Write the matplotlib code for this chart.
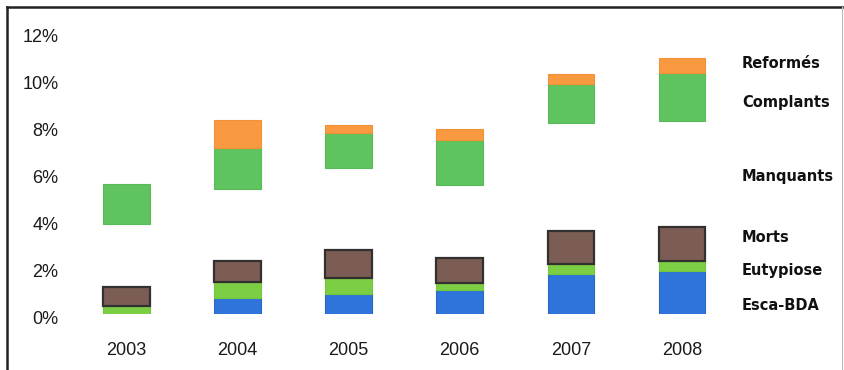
import matplotlib
matplotlib.use("Agg")
import matplotlib.pyplot as plt
import matplotlib.transforms as mtransforms
from matplotlib.lines import Line2D
import numpy as np

years = ["2003", "2004", "2005", "2006", "2007", "2008"]

# share of vines (%) per category, stacked from bottom to top
esca_bda = [0.00, 0.68, 0.86, 1.02, 1.69, 1.83]
eutypiose = [0.35, 0.69, 0.65, 0.28, 0.45, 0.42]
morts = [0.80, 0.89, 1.20, 1.08, 1.38, 1.46]
manquants = [2.65, 3.04, 3.49, 3.11, 4.60, 4.47]
complants = [1.70, 1.76, 1.48, 1.87, 1.65, 2.06]
reformes = [0.00, 1.17, 0.32, 0.50, 0.39, 0.63]

series_names = ["Esca-BDA", "Eutypiose", "Morts", "Manquants", "Complants", "Reformés"]
yticks = [0, 2, 4, 6, 8, 10, 12]

W, H = 845, 370
fig = plt.figure(figsize=(W / 100, H / 100), dpi=100)
fig.patch.set_facecolor("white")

ax = fig.add_axes([71 / W, (H - 314) / H, (737.5 - 71) / W, (314 - 31) / H])

x = np.arange(len(years))
width = 0.42

styles = {
    "Esca-BDA": dict(color="#2f74da", edgecolor="#2a66c4", linewidth=0.8),
    "Eutypiose": dict(color="#7ccf45", edgecolor="#74c63c", linewidth=0.8),
    "Morts": dict(color="#7b5d55", edgecolor="#353030", linewidth=1.6),
    "Manquants": dict(color="none", edgecolor="none", linewidth=0),
    "Complants": dict(color="#5fc35f", edgecolor="#58bb58", linewidth=0.8),
    "Reformés": dict(color="#f99a40", edgecolor="#f29238", linewidth=0.8),
}

values = [esca_bda, eutypiose, morts, manquants, complants, reformes]
bottom = np.zeros(len(years))
for name, vals in zip(series_names, values):
    vals = np.asarray(vals, dtype=float)
    bars = ax.bar(x, vals, width, bottom=bottom, **styles[name])
    # empty segments get no outline
    for b, v in zip(bars, vals):
        if v <= 0:
            b.set_visible(False)
    bottom += vals

ax.set_xlim(-0.5, len(years) - 0.5)
ax.set_ylim(0, 12)
ax.set_xticks(x)
ax.set_xticklabels(years)
ax.set_yticks(yticks)
ax.set_yticklabels([f"{v}%" for v in yticks])
ax.tick_params(axis="both", length=0, labelsize=13, colors="#1a1a1a")
ax.tick_params(axis="x", pad=20)
ax.tick_params(axis="y", pad=9)
for lab in ax.get_xticklabels() + ax.get_yticklabels():
    lab.set_fontfamily("Liberation Sans")
shift = mtransforms.ScaledTranslation(0, -4 / 100, fig.dpi_scale_trans)
for lab in ax.get_yticklabels():
    lab.set_transform(lab.get_transform() + shift)
for sp in ax.spines.values():
    sp.set_visible(False)

# series names to the right of the bars
label_y = {"Reformés": 64, "Complants": 102, "Manquants": 177,
           "Morts": 238, "Eutypiose": 271, "Esca-BDA": 305}
for name in series_names:
    fig.text(742 / W, 1 - label_y[name] / H, name, ha="left", va="center",
             fontsize=10.5, fontweight="bold", family="DejaVu Sans", color="#111111")

# outer frame
fig.add_artist(Line2D([7 / W, 7 / W], [0, 1 - 7 / H], transform=fig.transFigure,
                      color="#222222", linewidth=1.8))
fig.add_artist(Line2D([7 / W, 842 / W], [1 - 7 / H, 1 - 7 / H], transform=fig.transFigure,
                      color="#222222", linewidth=1.8))
fig.add_artist(Line2D([842 / W, 842 / W], [0, 1 - 7 / H], transform=fig.transFigure,
                      color="#bbbbbb", linewidth=0.8))

fig.savefig("out.png", dpi=100, facecolor="white")
